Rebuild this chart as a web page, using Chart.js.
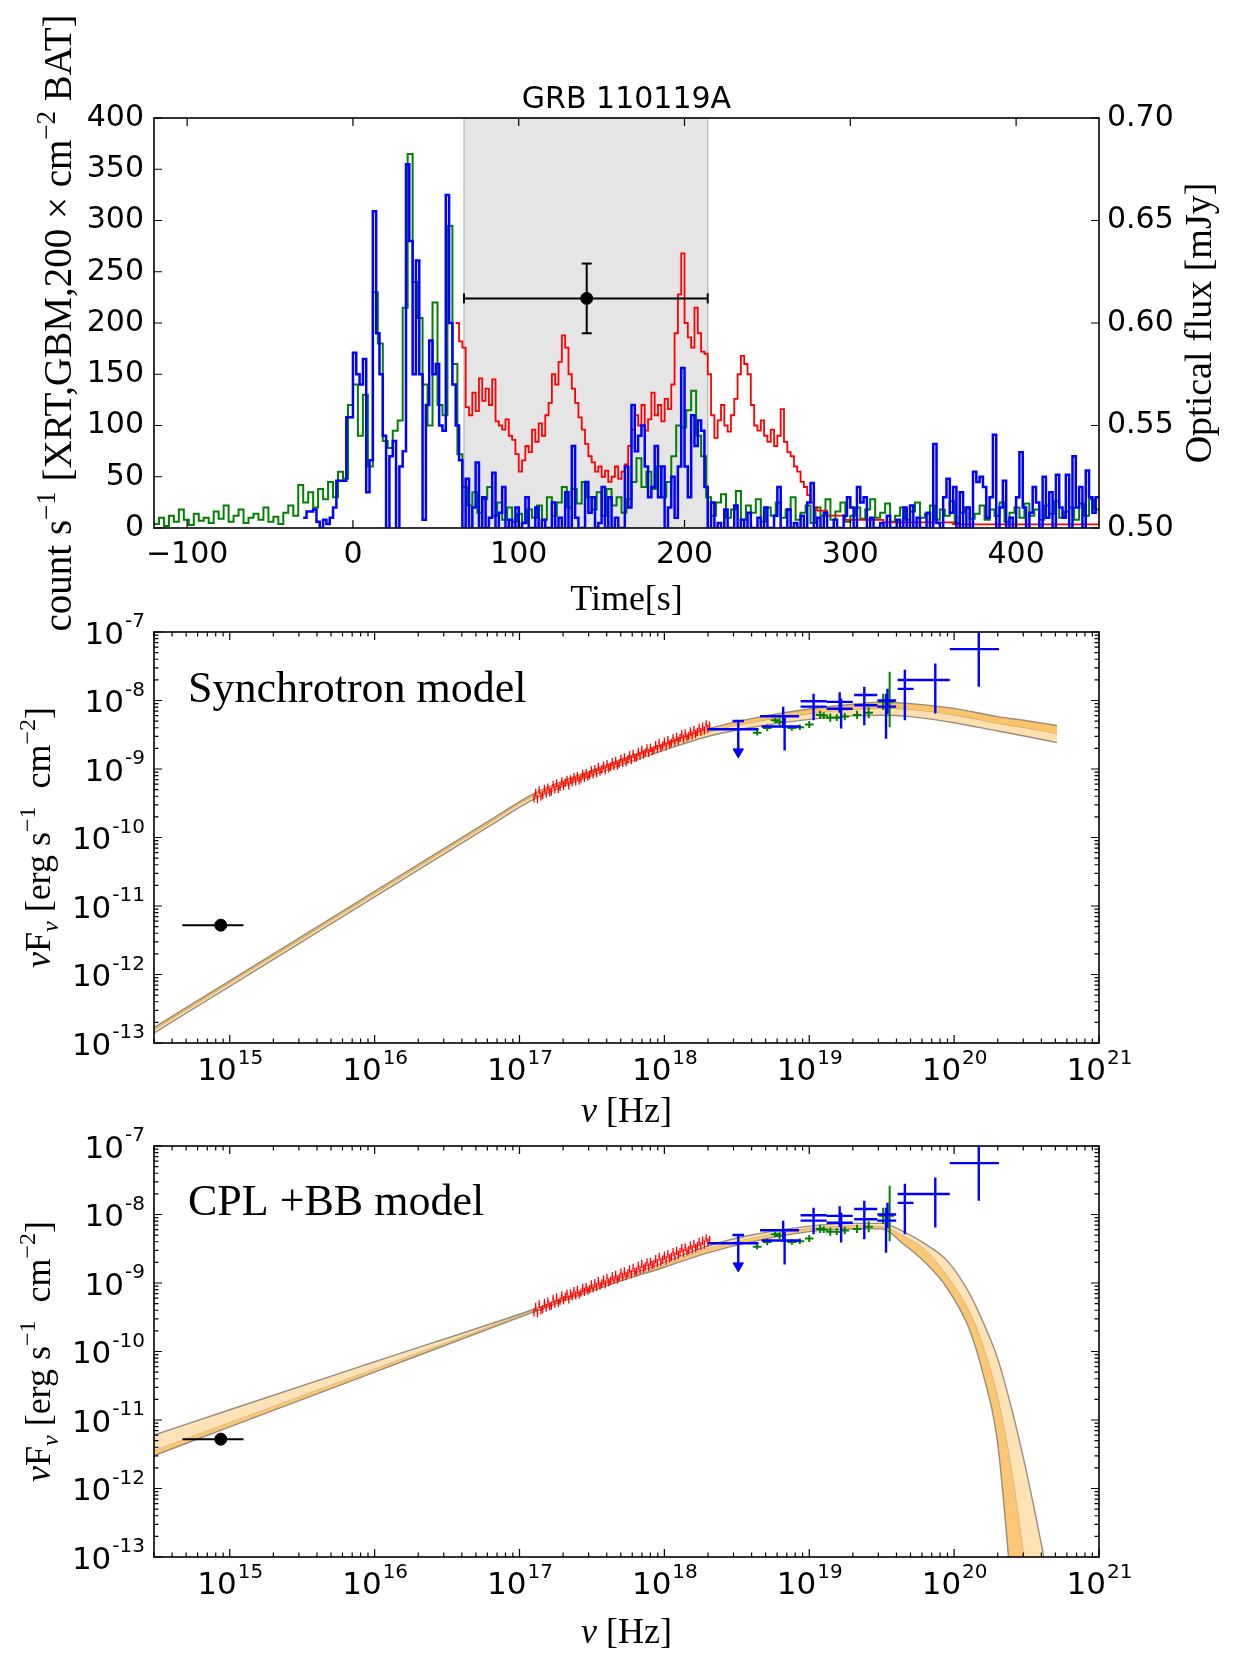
<!DOCTYPE html>
<html>
<head>
<meta charset="utf-8">
<script src="https://cdn.jsdelivr.net/npm/chart.js@4.4.1/dist/chart.umd.min.js"></script>
<style>
  html, body { margin: 0; padding: 0; background: #fff; }
  #page { position: relative; width: 1236px; height: 1665px; overflow: hidden; background: #fff; }
  canvas { position: absolute; left: 0; }
</style>
</head>
<body>
<div id="page">
  <canvas id="lc" width="1236" height="640" style="top:0px"></canvas>
  <canvas id="sed1" width="1236" height="535" style="top:600px"></canvas>
  <canvas id="sed2" width="1236" height="550" style="top:1115px"></canvas>
</div>
<script>
// ---------- top panel: light curves ----------
const timeTicks = [-100, 0, 100, 200, 300, 400];
const countTicks = [0, 50, 100, 150, 200, 250, 300, 350, 400];
const fluxTicks = [0.50, 0.55, 0.60, 0.65, 0.70];

// GBM (green), 3 s bins from -120 s
const gbmStart = -120, gbmBin = 3;
const gbmCounts = [
  4, 10, 2, 12, 6, 18, 8, 3, 14, 7,
  10, 5, 16, 9, 22, 6, 12, 18, 5, 10,
  14, 8, 20, 6, 11, 4, 15, 22, 12, 42,
  25, 35, 20, 38, 28, 45, 30, 55, 48, 120,
  140, 90, 130, 60, 230, 180, 85, 78, 95, 105,
  215, 365, 240, 205, 140, 100, 220, 120, 110, 295,
  160, 72, 40, 22, 35, 15, 28, 40, 12, 25,
  8, 20, 6, 14, 5, 18, 10, 22, 8, 30,
  12, 25, 40, 20, 38, 24, 45, 30, 18, 35,
  12, 38, 22, 30, 15, 28, 45, 68, 40, 55,
  38, 60, 30, 45, 70, 100, 98, 115, 134, 90,
  70, 30, 12, 25, 33, 10, 18, 36, 8, 22,
  15, 28, 6, 20, 12, 25, 10, 18, 30, 8,
  15, 22, 5, 20, 12, 28, 8, 16, 25, 6,
  12, 20, 9, 18, 28, 10, 15, 24, 6, 12,
  20, 8, 16, 25, 10, 14, 22, 8, 18, 12,
  26, 5, 15, 20, 9, 14, 22, 8, 18, 12,
  25, 6, 15, 20, 10, 24, 12, 18, 8, 22,
  14, 26, 10, 16, 20, 8, 24, 12, 28, 18
];

// BAT x200 (blue), 2 s bins from -30 s
const batStart = -30, batBin = 2;
const batCounts = [
  10, 16, 16, 18, 6, 0, 8, 4, 10, 20,
  46, 46, 46, 108, 108, 171, 150, 140, 165, 35,
  66, 309, 190, 150, 90, 0, 70, 85, 0, 60,
  75, 355, 280, 150, 261, 150, 8, 120, 183, 150,
  160, 100, 95, 325, 200, 140, 100, 66, 0, 48,
  0, 20, 64, 0, 30, 0, 10, 54, 0, 15,
  40, 0, 8, 0, 20, 0, 5, 30, 0, 0,
  20, 0, 8, 0, 0, 25, 0, 10, 0, 35,
  0, 80, 10, 0, 0, 45, 15, 30, 0, 5,
  40, 0, 30, 0, 10, 0, 0, 60, 20, 120,
  75, 90, 100, 60, 30, 40, 80, 30, 60, 0,
  20, 50, 10, 60, 156, 60, 30, 110, 80, 105,
  95, 40, 0, 25, 0, 5, 0, 18, 0, 0,
  22, 0, 8, 0, 15, 0, 0, 10, 0, 20,
  0, 0, 12, 40, 0, 0, 18, 0, 5, 0,
  12, 0, 25, 44, 0, 10, 0, 15, 0, 0,
  8, 0, 0, 12, 30, 20, 0, 40, 25, 30,
  0, 10, 0, 0, 5, 0, 12, 0, 0, 8,
  0, 20, 0, 22, 0, 10, 0, 0, 15, 0,
  82, 5, 0, 30, 48, 15, 40, 0, 35, 0,
  20, 0, 55, 45, 50, 40, 10, 30, 91, 0,
  20, 46, 0, 10, 0, 30, 74, 20, 0, 15,
  40, 25, 0, 50, 10, 35, 0, 52, 20, 10,
  52, 0, 70, 20, 40, 0, 56, 30, 15, 30
];

// XRT (red), 2 s bins from 62 s, then a coarser tail
const xrtStart = 62, xrtBin = 2;
const xrtCounts = [
  200, 182, 176, 118, 110, 132, 114, 146, 124, 136,
  120, 145, 104, 100, 96, 106, 90, 86, 72, 55,
  66, 80, 74, 96, 84, 102, 90, 110, 122, 150,
  140, 162, 188, 176, 150, 136, 122, 108, 96, 82,
  70, 64, 55, 60, 50, 56, 45, 50, 60, 48,
  55, 62, 80, 96, 110, 100, 120, 95, 106, 132,
  110, 120, 104, 126, 116, 140, 190, 228, 268, 200,
  186, 176, 215, 190, 172, 170, 150, 110, 88, 105,
  120, 100, 94, 110, 126, 150, 168, 160, 150, 120,
  100, 95, 105, 90, 84, 96, 80, 90, 116, 84,
  74, 70, 60, 55, 45, 40, 32, 25, 20
];
const xrtTailT = [280, 286, 296, 320, 362, 450];
const xrtTailC = [17, 12, 8, 5.5, 3.5, 3.5];

// shaded interval and optical point (right axis)
const spanT = [67, 214];
const optT = 141, optTErr = [67, 214];
const optFlux = 0.612, optFluxErr = [0.595, 0.629];

// ---------- SED panels (log10 values) ----------
const nuDecades = [15, 16, 17, 18, 19, 20, 21];
const fluxDecades = [-13, -12, -11, -10, -9, -8, -7];

const optNu = [14.673, 14.938, 15.095];   // lo, centre, hi
const optLogF = -11.28;

// XRT spectrum, channels every 0.012 dex from 10^17.10 Hz
const xrtNu0 = 17.10, xrtDnu = 0.012, xrtErr = 0.06;
const xrtLogF = [
  -9.43, -9.35, -9.44, -9.31, -9.40, -9.38, -9.29, -9.36, -9.27, -9.34,
  -9.33, -9.23, -9.30, -9.21, -9.29, -9.26, -9.18, -9.25, -9.20, -9.16,
  -9.24, -9.15, -9.19, -9.12, -9.18, -9.10, -9.17, -9.14, -9.07, -9.13,
  -9.06, -9.11, -9.09, -9.02, -9.08, -9.00, -9.06, -8.97, -9.04, -9.01,
  -8.95, -9.02, -8.93, -8.99, -8.97, -8.90, -8.96, -8.88, -8.95, -8.92,
  -8.85, -8.91, -8.83, -8.90, -8.86, -8.80, -8.87, -8.78, -8.84, -8.83,
  -8.75, -8.81, -8.72, -8.79, -8.76, -8.70, -8.77, -8.69, -8.74, -8.72,
  -8.65, -8.71, -8.62, -8.69, -8.66, -8.60, -8.67, -8.58, -8.64, -8.62,
  -8.55, -8.61, -8.53, -8.59, -8.55, -8.49, -8.56, -8.48, -8.54, -8.52,
  -8.45, -8.51, -8.43, -8.49, -8.46, -8.40, -8.46, -8.38, -8.44, -8.35,
  -8.41, -8.37
];

const gbmNu   = [18.64, 18.71, 18.765, 18.795, 18.88, 18.935, 19.00, 19.075, 19.10, 19.145, 19.19, 19.245, 19.33, 19.41, 19.51, 19.555];
const gbmLogF = [-8.47, -8.40, -8.29, -8.31, -8.40, -8.39, -8.35, -8.21, -8.22, -8.25, -8.25, -8.235, -8.21, -8.18, -8.02, -8.02];
const gbmFLo  = [-8.51, -8.45, -8.33, -8.36, -8.44, -8.43, -8.40, -8.27, -8.27, -8.31, -8.30, -8.29, -8.27, -8.26, -8.14, -8.39];
const gbmFHi  = [-8.43, -8.35, -8.25, -8.26, -8.36, -8.35, -8.30, -8.15, -8.17, -8.19, -8.20, -8.18, -8.15, -8.10, -7.90, -7.58];
const gbmHalfBin = 0.03;

const batNu   = [18.82, 18.83, 19.03, 19.03, 19.21, 19.22, 19.38, 19.38, 19.54, 19.53, 19.66, 19.66, 19.87, 20.17];
const batNuLo = [18.66, 18.67, 18.94, 18.94, 19.12, 19.12, 19.31, 19.31, 19.47, 19.47, 19.61, 19.61, 19.73, 19.97];
const batNuHi = [18.93, 18.94, 19.12, 19.12, 19.30, 19.30, 19.47, 19.47, 19.60, 19.60, 19.73, 19.72, 19.97, 20.31];
const batLogF = [-8.23, -8.38, -8.01, -8.09, -8.02, -8.12, -7.92, -8.07, -8.00, -8.09, -7.70, -7.83, -7.70, -7.25];
const batFLo  = [-8.40, -8.73, -8.15, -8.29, -8.18, -8.41, -8.10, -8.36, -8.20, -8.56, -7.90, -8.29, -8.19, -7.80];
const batFHi  = [-8.09, -8.25, -7.90, -7.95, -7.88, -7.97, -7.80, -7.90, -7.83, -7.90, -7.55, -7.65, -7.46, -7.00];

// upper limit (arrow)
const ulNu = [18.30, 18.51, 18.65];
const ulLogF = [-8.75, -8.42, -8.30];   // tip, value, top

// synchrotron model band
const synNu  = [14.477, 15.0, 16.0, 16.8, 17.09, 17.6, 18.0, 18.3, 18.6, 19.0, 19.3, 19.5, 19.7, 20.0, 20.3, 20.5, 20.71];
const synHi  = [-12.775, -12.092, -10.787, -9.744, -9.37, -8.94, -8.635, -8.415, -8.265, -8.125, -8.055, -8.025, -8.045, -8.115, -8.235, -8.295, -8.365];
const synMid = [-12.815, -12.132, -10.827, -9.784, -9.409, -8.98, -8.68, -8.47, -8.33, -8.20, -8.14, -8.12, -8.14, -8.22, -8.34, -8.41, -8.49];
const synLo  = [-12.855, -12.172, -10.867, -9.824, -9.45, -9.02, -8.725, -8.525, -8.395, -8.275, -8.225, -8.215, -8.235, -8.325, -8.445, -8.525, -8.615];

// CPL+BB model band
const cplNu  = [14.477, 15.0, 16.0, 17.09, 17.6, 18.0, 18.3, 18.6, 19.0, 19.3, 19.5, 19.65, 19.8, 19.95, 20.1, 20.2, 20.3, 20.4, 20.5, 20.6, 20.7, 20.8];
const cplHi  = [-11.22, -10.85, -10.15, -9.39, -9.00, -8.70, -8.46, -8.30, -8.17, -8.13, -8.13, -8.25, -8.43, -8.67, -9.13, -9.57, -10.10, -10.86, -11.76, -12.79, -13.9, -15.2];
const cplMid = [-11.45, -11.04, -10.26, -9.41, -9.02, -8.74, -8.50, -8.35, -8.21, -8.17, -8.18, -8.32, -8.52, -8.90, -9.40, -9.93, -10.67, -11.80, -13.3, -15.0, -17.0, -19.0];
const cplLo  = [-11.52, -11.10, -10.30, -9.43, -9.04, -8.77, -8.56, -8.40, -8.25, -8.21, -8.21, -8.43, -8.70, -9.07, -9.65, -10.33, -11.33, -13.6, -16.0, -18.0, -20.0, -22.0];

// ---------- helpers ----------
const SANS = '"DejaVu Sans", sans-serif';
const SERIF = '"Liberation Serif", "DejaVu Serif", serif';
const P = v => Math.pow(10, v);

function stepPoints(start, bin, vals) {
  const pts = vals.map((v, i) => ({ x: start + i * bin, y: v }));
  pts.push({ x: start + vals.length * bin, y: vals[vals.length - 1] });
  return pts;
}

// error crosses as one line dataset broken by gaps
function crosses(nu, nuLo, nuHi, f, fLo, fHi) {
  const pts = [];
  for (let i = 0; i < nu.length; i++) {
    pts.push({ x: P(nuLo[i]), y: P(f[i]) }, { x: P(nuHi[i]), y: P(f[i]) }, { x: P(nuHi[i]), y: null });
    pts.push({ x: P(nu[i]), y: P(fLo[i]) }, { x: P(nu[i]), y: P(fHi[i]) }, { x: P(nu[i]), y: null });
  }
  return pts;
}
const curve = (nu, f) => nu.map((v, i) => ({ x: P(v), y: P(f[i]) }));

function richText(ctx, parts, x, y, size, rotate, align) {
  const items = parts.map(([t, s]) => {
    const small = s.includes('sup') || s.includes('sub');
    const px = small ? Math.round(size * 0.68) : size;
    return {
      t,
      font: (s.includes('it') ? 'italic ' : '') + px + 'px ' + SERIF,
      dy: s.includes('sup') ? -size * 0.42 : (s.includes('sub') ? size * 0.22 : 0)
    };
  });
  ctx.save();
  ctx.translate(x, y);
  if (rotate) ctx.rotate(-Math.PI / 2);
  ctx.fillStyle = '#000';
  ctx.textAlign = 'left';
  ctx.textBaseline = 'alphabetic';
  let total = 0;
  items.forEach(it => { ctx.font = it.font; it.w = ctx.measureText(it.t).width; total += it.w; });
  let cx = align === 'left' ? 0 : -total / 2;
  items.forEach(it => { ctx.font = it.font; ctx.fillText(it.t, cx, it.dy); cx += it.w; });
  ctx.restore();
}

// box + inward ticks + free text
const decor = {
  id: 'decor',
  afterDraw(chart, args, opts) {
    const { ctx, chartArea: a } = chart;
    ctx.save();
    ctx.strokeStyle = '#000';
    ctx.lineWidth = 1.2;
    ctx.beginPath();
    (opts.sides || []).forEach(({ id, at }) => {
      const s = chart.scales[id];
      s.ticks.forEach(t => {
        const len = t.major ? 8 : 4.5;
        const p = s.getPixelForValue(t.value);
        at.forEach(edge => {
          if (edge === 'bottom') { ctx.moveTo(p, a.bottom); ctx.lineTo(p, a.bottom - len); }
          if (edge === 'top') { ctx.moveTo(p, a.top); ctx.lineTo(p, a.top + len); }
          if (edge === 'left') { ctx.moveTo(a.left, p); ctx.lineTo(a.left + len, p); }
          if (edge === 'right') { ctx.moveTo(a.right, p); ctx.lineTo(a.right - len, p); }
        });
      });
    });
    ctx.stroke();
    ctx.lineWidth = 1.6;
    ctx.strokeRect(a.left, a.top, a.right - a.left, a.bottom - a.top);

    // log tick labels: 10^n
    if (opts.logLabels) {
      const big = '31px ' + SANS, small = '20px ' + SANS;
      ctx.fillStyle = '#000';
      ctx.textAlign = 'left';
      ctx.textBaseline = 'alphabetic';
      nuDecades.forEach(d => {
        const px = chart.scales.x.getPixelForValue(P(d));
        ctx.font = big; const w1 = ctx.measureText('10').width;
        ctx.font = small; const w2 = ctx.measureText(String(d)).width;
        const x0 = px - (w1 + w2) / 2;
        ctx.font = big; ctx.fillText('10', x0, a.bottom + 37);
        ctx.font = small; ctx.fillText(String(d), x0 + w1 + 1, a.bottom + 21);
      });
      fluxDecades.forEach(d => {
        const py = chart.scales.y.getPixelForValue(P(d));
        ctx.font = big; const w1 = ctx.measureText('10').width;
        ctx.font = small; const w2 = ctx.measureText(String(d)).width;
        const x0 = a.left - 9 - (w1 + w2 + 1);
        ctx.font = big; ctx.fillText('10', x0, py + 11.5);
        ctx.font = small; ctx.fillText(String(d), x0 + w1 + 1, py - 5);
      });
    }
    ctx.restore();
    (opts.texts || []).forEach(t => {
      const [x, y] = t.pos(a);
      if (t.sans) {
        ctx.save();
        ctx.font = t.size + 'px ' + SANS;
        ctx.fillStyle = '#000';
        ctx.textAlign = 'center';
        ctx.textBaseline = 'alphabetic';
        ctx.fillText(t.parts[0][0], x, y);
        ctx.restore();
      } else {
        richText(ctx, t.parts, x, y, t.size, t.rotate, t.align);
      }
    });
  }
};

Chart.defaults.font.family = SANS;
Chart.defaults.color = '#000';

const minus = v => (v < 0 ? '\u2212' + Math.abs(v) : String(v));
const hidden = { display: false, drawTicks: false };

// ---------- top panel ----------
const xrtPoints = stepPoints(xrtStart, xrtBin, xrtCounts)
  .concat(xrtTailT.map((t, i) => ({ x: t, y: xrtTailC[i] })));
const countMax = countTicks[countTicks.length - 1];

new Chart(document.getElementById('lc'), {
  type: 'line',
  data: {
    datasets: [
      { data: [{ x: optT, y: optFlux }], yAxisID: 'y1', showLine: false,
        pointRadius: 6, pointBackgroundColor: '#000', pointBorderColor: '#000', order: 0 },
      { data: optTErr.map(t => ({ x: t, y: optFlux })), yAxisID: 'y1', borderColor: '#000', borderWidth: 2,
        pointStyle: 'line', pointRotation: 90, pointRadius: 5, pointBorderWidth: 2, pointBorderColor: '#000', order: 0 },
      { data: optFluxErr.map(f => ({ x: optT, y: f })), yAxisID: 'y1', borderColor: '#000', borderWidth: 2,
        pointStyle: 'line', pointRadius: 5, pointBorderWidth: 2, pointBorderColor: '#000', order: 0 },
      { data: stepPoints(batStart, batBin, batCounts), borderColor: '#0000ff', borderWidth: 2.5, stepped: true, order: 1 },
      { data: xrtPoints, borderColor: '#ff0000', borderWidth: 1.8, stepped: true, order: 2 },
      { data: stepPoints(gbmStart, gbmBin, gbmCounts), borderColor: '#008000', borderWidth: 2, stepped: true, order: 3 },
      { data: [{ x: spanT[0], y: 0 }, { x: spanT[0], y: countMax }, { x: spanT[1], y: countMax }, { x: spanT[1], y: 0 }],
        borderColor: '#b4b4b4', borderWidth: 1.2, backgroundColor: '#e5e5e5', fill: 'origin', order: 9 }
    ]
  },
  options: {
    responsive: false, animation: false, devicePixelRatio: 1, events: [],
    layout: { padding: { top: 118, left: 0, right: 0, bottom: 0 } },
    elements: { point: { radius: 0 }, line: { tension: 0 } },
    plugins: {
      legend: { display: false }, tooltip: { enabled: false },
      decor: {
        sides: [{ id: 'x', at: ['bottom', 'top'] }, { id: 'y', at: ['left'] }, { id: 'y1', at: ['right'] }],
        texts: [
          { parts: [['GRB 110119A', 'n']], sans: true, size: 30, pos: a => [(a.left + a.right) / 2, a.top - 10] },
          { parts: [['Time[s]', 'n']], size: 36, pos: a => [(a.left + a.right) / 2, 610] },
          { parts: [['count s', 'n'], ['\u22121', 'sup'], [' [XRT,GBM,200 \u00d7 cm', 'n'], ['\u22122', 'sup'], [' BAT]', 'n']],
            size: 39, rotate: true, pos: a => [71, (a.top + a.bottom) / 2] },
          { parts: [['Optical flux [mJy]', 'n']], size: 38, rotate: true, pos: a => [1211, (a.top + a.bottom) / 2] }
        ]
      }
    },
    scales: {
      x: {
        type: 'linear', min: -120, max: 450,
        afterBuildTicks: s => { s.ticks = timeTicks.map(v => ({ value: v, major: true })); },
        afterFit: s => { s.height = 112; },
        grid: hidden, border: { display: false },
        ticks: { padding: 9, font: { size: 30 }, color: '#000', autoSkip: false, maxRotation: 0, callback: v => minus(v) }
      },
      y: {
        type: 'linear', position: 'left', min: 0, max: countMax,
        afterBuildTicks: s => { s.ticks = countTicks.map(v => ({ value: v, major: true })); },
        afterFit: s => { s.width = 154; },
        grid: hidden, border: { display: false },
        ticks: { padding: 10, font: { size: 30 }, color: '#000', autoSkip: false }
      },
      y1: {
        type: 'linear', position: 'right', min: fluxTicks[0], max: fluxTicks[fluxTicks.length - 1],
        afterBuildTicks: s => { s.ticks = fluxTicks.map(v => ({ value: v, major: true })); },
        afterFit: s => { s.width = 137; },
        grid: hidden, border: { display: false },
        ticks: { padding: 8, font: { size: 30 }, color: '#000', autoSkip: false, callback: v => v.toFixed(2) }
      }
    }
  },
  plugins: [decor]
});

// ---------- SED panels ----------
function logTicks(decades, min, max) {
  const out = [];
  for (let d = decades[0] - 1; d <= decades[decades.length - 1]; d++) {
    for (let m = 1; m <= 9; m++) {
      const v = m * Math.pow(10, d);
      if (v >= min * 0.999 && v <= max * 1.001) out.push({ value: v, major: m === 1 });
    }
  }
  return out;
}

const EDGE = 'rgba(135,125,110,0.85)';
const xrtNu = xrtLogF.map((_, i) => xrtNu0 + i * xrtDnu);

function sedChart(id, topPad, xHeight, band, colHiMid, colMidLo, title, titleY, xLabelY) {
  const xMin = 3e14, xMax = P(nuDecades[nuDecades.length - 1]);
  const yMin = P(fluxDecades[0]), yMax = P(fluxDecades[fluxDecades.length - 1]);
  return new Chart(document.getElementById(id), {
    type: 'line',
    data: {
      datasets: [
        { data: [{ x: P(optNu[1]), y: P(optLogF) }], showLine: false, pointRadius: 6,
          pointBackgroundColor: '#000', pointBorderColor: '#000', order: 0 },
        { data: [{ x: P(optNu[0]), y: P(optLogF) }, { x: P(optNu[2]), y: P(optLogF) }],
          borderColor: '#000', borderWidth: 2, order: 0 },
        { data: crosses(batNu, batNuLo, batNuHi, batLogF, batFLo, batFHi), borderColor: '#0000ff', borderWidth: 2.4, order: 1 },
        { data: crosses([ulNu[1]], [ulNu[0]], [ulNu[2]], [ulLogF[1]], [ulLogF[0]], [ulLogF[2]])
            .concat([{ x: P(ulNu[1] - 0.04), y: P(ulLogF[2]) }, { x: P(ulNu[1] + 0.04), y: P(ulLogF[2]) }]),
          borderColor: '#0000ff', borderWidth: 2.4, order: 1 },
        { data: [{ x: P(ulNu[1]), y: P(ulLogF[0]) }], showLine: false, pointStyle: 'triangle', pointRotation: 180,
          pointRadius: 6, pointBackgroundColor: '#0000ff', pointBorderColor: '#0000ff', order: 1 },
        { data: crosses(gbmNu, gbmNu.map(v => v - gbmHalfBin), gbmNu.map(v => v + gbmHalfBin), gbmLogF, gbmFLo, gbmFHi),
          borderColor: '#008000', borderWidth: 2, order: 2 },
        { data: crosses(xrtNu, xrtNu.map(v => v - xrtDnu / 2), xrtNu.map(v => v + xrtDnu / 2),
            xrtLogF, xrtLogF.map(v => v - xrtErr), xrtLogF.map(v => v + xrtErr)),
          borderColor: '#ff0000', borderWidth: 1.3, order: 3 },
        { data: curve(band.nu, band.hi), borderColor: EDGE, borderWidth: 1.4, fill: '+1', backgroundColor: colHiMid,
          cubicInterpolationMode: 'monotone', order: 12 },
        { data: curve(band.nu, band.mid), borderColor: 'rgba(160,125,75,0.6)', borderWidth: 1.2,
          cubicInterpolationMode: 'monotone', order: 11 },
        { data: curve(band.nu, band.lo), borderColor: EDGE, borderWidth: 1.4, fill: '-1', backgroundColor: colMidLo,
          cubicInterpolationMode: 'monotone', order: 10 }
      ]
    },
    options: {
      responsive: false, animation: false, devicePixelRatio: 1, events: [],
      layout: { padding: { top: topPad, left: 0, right: 137, bottom: 0 } },
      elements: { point: { radius: 0 }, line: { tension: 0 } },
      plugins: {
        legend: { display: false }, tooltip: { enabled: false },
        decor: {
          sides: [{ id: 'x', at: ['bottom', 'top'] }, { id: 'y', at: ['left', 'right'] }],
          logLabels: true,
          texts: [
            { parts: [[title, 'n']], size: 44, align: 'left', pos: a => [188, a.top + titleY] },
            { parts: [['\u03bd', 'it'], [' [Hz]', 'n']], size: 36, pos: a => [(a.left + a.right) / 2, a.bottom + xLabelY] },
            { parts: [['\u03bd', 'it'], ['F', 'n'], ['\u03bd', 'itsub'], [' [erg s', 'n'], ['\u22121', 'sup'], ['  cm', 'n'], ['\u22122', 'sup'], [']', 'n']],
              size: 36, rotate: true, pos: a => [50, (a.top + a.bottom) / 2] }
          ]
        }
      },
      scales: {
        x: {
          type: 'logarithmic', min: xMin, max: xMax,
          afterBuildTicks: s => { s.ticks = logTicks(nuDecades, xMin, xMax); },
          afterFit: s => { s.height = xHeight; },
          grid: hidden, border: { display: false }, ticks: { display: false }
        },
        y: {
          type: 'logarithmic', min: yMin, max: yMax,
          afterBuildTicks: s => { s.ticks = logTicks(fluxDecades, yMin, yMax); },
          afterFit: s => { s.width = 154; },
          grid: hidden, border: { display: false }, ticks: { display: false }
        }
      }
    },
    plugins: [decor]
  });
}

sedChart('sed1', 32, 92, { nu: synNu, hi: synHi, mid: synMid, lo: synLo },
  '#fcc46a', '#fde0ae', 'Synchrotron model', 70, 79);
sedChart('sed2', 31, 108, { nu: cplNu, hi: cplHi, mid: cplMid, lo: cplLo },
  '#fde2b6', '#fcc774', 'CPL +BB model', 69, 86);
</script>
</body>
</html>
